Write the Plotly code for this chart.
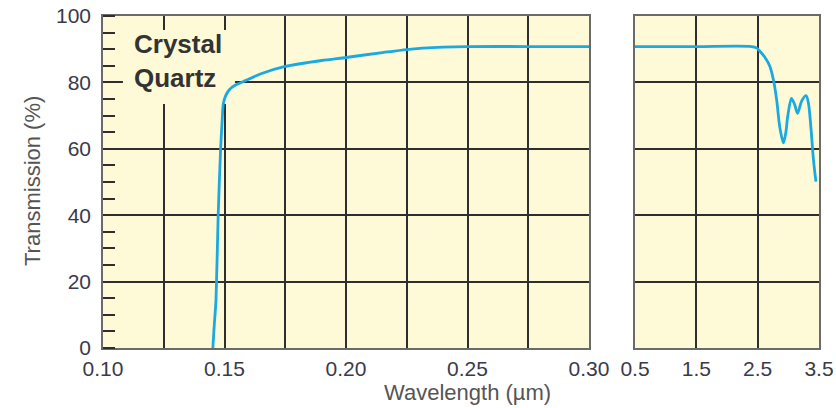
import plotly.graph_objects as go

# Left panel: UV region (wavelength in µm, transmission %)
uv_wavelength = [0.1452, 0.1458, 0.1465, 0.1474, 0.1484, 0.1490, 0.1495, 0.1505, 0.1520,
                 0.1545, 0.1576, 0.1650, 0.1750, 0.1900, 0.2000, 0.2150, 0.2250, 0.2400,
                 0.2500, 0.2750, 0.3000]
uv_transmission = [0.0, 7.0, 14.5, 40.0, 60.0, 68.0, 73.5, 76.0, 77.8,
                   79.2, 80.2, 82.6, 84.8, 86.6, 87.5, 89.0, 89.9, 90.6,
                   90.8, 90.8, 90.8]

# Right panel: visible / IR region
ir_wavelength = [0.5, 1.5, 2.40, 2.48, 2.54, 2.62, 2.70, 2.76, 2.81, 2.86, 2.92, 2.96, 2.99,
                 3.05, 3.10, 3.15, 3.22, 3.29, 3.33, 3.37, 3.41, 3.45]
ir_transmission = [90.8, 90.8, 90.8, 90.4, 89.3, 87.5, 84.8, 80.5, 74.7, 66.6, 61.8, 65.0, 69.8,
                   75.2, 73.5, 70.7, 74.5, 76.0, 73.5, 66.0, 56.6, 50.1]

uv_grid = [0.10, 0.125, 0.15, 0.175, 0.20, 0.225, 0.25, 0.275, 0.30]
uv_tick_labels = ["0.10", "", "0.15", "", "0.20", "", "0.25", "", "0.30"]
ir_ticks = [0.5, 1.5, 2.5, 3.5]
ir_tick_labels = ["0.5", "1.5", "2.5", "3.5"]
y_ticks = [0, 20, 40, 60, 80, 100]

W, H = 836, 408
FONT = "Liberation Sans, Arial, Helvetica, sans-serif"
BG = "#FEF9D6"
LINE = "#1BA9E1"
GRID = "#2e2e2e"
FRAME = "#6a6a6a"
TEXT = "#3a3a4a"
TICKSIZE = 21

TOP, BOTTOM = 16, 348
PH = BOTTOM - TOP

fig = go.Figure()
fig.add_trace(go.Scatter(x=uv_wavelength, y=uv_transmission, mode="lines",
                         line=dict(color=LINE, width=2.8, shape="spline", smoothing=0.6),
                         xaxis="x", yaxis="y", showlegend=False, hoverinfo="skip"))
fig.add_trace(go.Scatter(x=ir_wavelength, y=ir_transmission, mode="lines",
                         line=dict(color=LINE, width=2.8, shape="spline", smoothing=0.8),
                         xaxis="x2", yaxis="y2", showlegend=False, hoverinfo="skip"))

common_axis = dict(showline=True, linecolor=FRAME, linewidth=1.6, mirror=True,
                   gridcolor=GRID, gridwidth=1.5, zeroline=False, automargin=False,
                   ticklabeloverflow="allow",
                   tickfont=dict(family=FONT, size=TICKSIZE, color=TEXT), ticks="")

fig.update_layout(
    width=W, height=H,
    margin=dict(l=0, r=0, t=TOP, b=H - BOTTOM),
    paper_bgcolor="white", plot_bgcolor=BG,
    xaxis=dict(domain=[103 / W, 589 / W], range=[0.10, 0.30],
               tickvals=uv_grid, ticktext=uv_tick_labels, ticklabelstandoff=1,
               anchor="y", **common_axis),
    yaxis=dict(domain=[0, 1], range=[0, 100], tickvals=y_ticks, anchor="x",
               ticklabelstandoff=6,
               minor=dict(dtick=5, ticks="inside", ticklen=12, tickcolor=GRID,
                          tickwidth=1.5, showgrid=False),
               **common_axis),
    xaxis2=dict(domain=[635 / W, 819 / W], range=[0.5, 3.5],
                tickvals=ir_ticks, ticktext=ir_tick_labels, ticklabelstandoff=1,
                anchor="y2", **common_axis),
    yaxis2=dict(domain=[0, 1], range=[0, 100], tickvals=y_ticks, showticklabels=False,
                anchor="x2", **common_axis),
)

# label box that hides grid lines
fig.add_shape(type="rect", xref="x", yref="y", x0=0.1082, x1=0.1543, y0=73.5, y1=95.8,
              fillcolor=BG, line=dict(width=0), layer="between")
fig.add_annotation(xref="x", yref="y", x=0.1120, y=96.8, xanchor="left", yanchor="top",
                   text="<b>Crystal<br>Quartz</b>", showarrow=False, align="left",
                   font=dict(family=FONT, size=26, color="#333333"))

fig.add_annotation(xref="paper", yref="paper", x=32 / W, y=(348 - 181) / PH,
                   xanchor="center", yanchor="middle", text="Transmission (%)",
                   textangle=-90, showarrow=False,
                   font=dict(family=FONT, size=22, color="#555555"))
fig.add_annotation(xref="paper", yref="paper", x=467 / W, y=-(392 - 348) / PH,
                   xanchor="center", yanchor="middle", text="Wavelength (µm)",
                   showarrow=False, font=dict(family=FONT, size=22, color="#555555"))

# remove the default page margin so the figure sits at the window's top-left corner
fig.write_html("out.html", config={"displayModeBar": False},
               post_script="document.body.style.margin='0';document.body.style.overflow='hidden';")
